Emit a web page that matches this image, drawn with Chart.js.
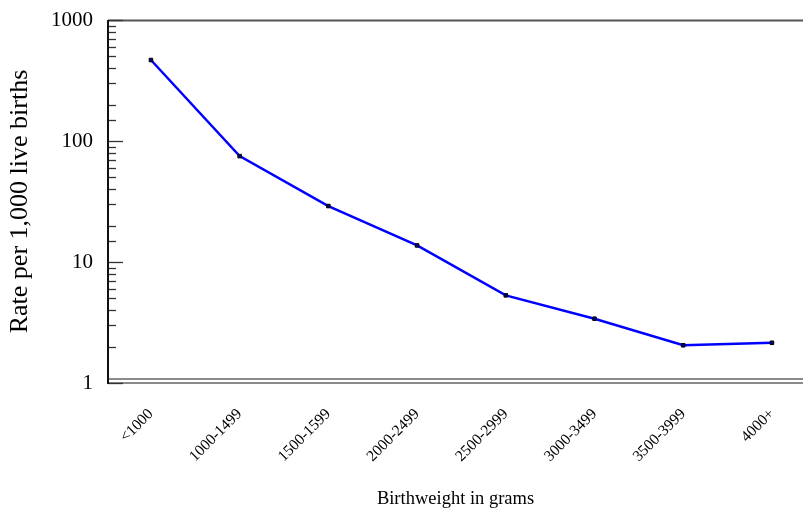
<!DOCTYPE html>
<html>
<head>
<meta charset="utf-8">
<script src="https://cdn.jsdelivr.net/npm/chart.js@4/dist/chart.umd.min.js"></script>
<style>
    html, body { margin: 0; padding: 0; background: #fff; overflow: hidden; }
</style>
</head>
<body>
<canvas id="myChart" width="803" height="510"></canvas>
<script>
const categories = ["<1000", "1000-1499", "1500-1599", "2000-2499", "2500-2999", "3000-3499", "3500-3999", "4000+"];
const rates = [467, 75, 29, 13.7, 5.3, 3.4, 2.05, 2.15];
const yTickLabels = [1, 10, 100, 1000];

const serif = "'Liberation Serif', 'Times New Roman', serif";

// axis lines and the little inside ticks, drawn on top of the scales
const axisPlugin = {
    id: 'axisLines',
    beforeDatasetsDraw(c) {
        const ctx = c.ctx;
        const area = c.chartArea;
        const y = c.scales.y;
        ctx.save();
        ctx.lineCap = 'butt';

        ctx.strokeStyle = "#555";
        ctx.lineWidth = 2;
        ctx.beginPath();
        ctx.moveTo(area.left, area.top + 0.5);
        ctx.lineTo(area.right, area.top + 0.5);
        ctx.stroke();

        ctx.strokeStyle = "#666";
        ctx.lineWidth = 1.5;
        ctx.beginPath();
        ctx.moveTo(area.left, area.bottom - 4);
        ctx.lineTo(area.right, area.bottom - 4);
        ctx.moveTo(area.left, area.bottom);
        ctx.lineTo(area.right, area.bottom);
        ctx.stroke();

        ctx.strokeStyle = "#333";
        ctx.lineWidth = 1.3;
        y.ticks.forEach(t => {
            const py = Math.round(y.getPixelForValue(t.value)) + 0.5;
            const major = yTickLabels.includes(t.value);
            ctx.beginPath();
            ctx.moveTo(area.left, py);
            ctx.lineTo(area.left + (major ? 15 : 8), py);
            ctx.stroke();
        });

        ctx.strokeStyle = "#111";
        ctx.lineWidth = 2;
        ctx.beginPath();
        ctx.moveTo(area.left, area.top);
        ctx.lineTo(area.left, area.bottom + 1);
        ctx.stroke();
        ctx.restore();
    }
};

const noPad = s => {
    s.paddingTop = 0;
    s.paddingBottom = 0;
    s.paddingLeft = 0;
    s.paddingRight = 0;
};

const chart = document.getElementById('myChart');

new Chart(chart, {
    type: 'line',
    data: {
        datasets: [{
            data: rates.map((v, i) => ({ x: i, y: v })),
            borderColor: "#0000ff",
            borderWidth: 2.5,
            pointStyle: 'rect',
            pointRadius: 2.5,
            pointBackgroundColor: "#000080",
            pointBorderColor: "#000",
            pointBorderWidth: 1,
            tension: 0,
        }]
    },
    options: {
        responsive: false,
        animation: false,
        layout: { autoPadding: false, padding: { top: 20, right: 0, left: 0, bottom: 0 } },
        plugins: {
            legend: { display: false },
            tooltip: { enabled: false },
        },
        scales: {
            x: {
                type: 'linear',
                min: -0.484,
                max: 7.35,
                afterBuildTicks: s => { s.ticks = categories.map((_, i) => ({ value: i })); },
                afterFit: s => { s.height = 127; noPad(s); },
                grid: { display: false, drawTicks: false },
                border: { display: false },
                ticks: {
                    autoSkip: false,
                    minRotation: 45,
                    maxRotation: 45,
                    padding: 22,
                    color: "#000",
                    font: { family: serif, size: 15.5 },
                    callback: v => categories[v],
                },
                title: {
                    display: true,
                    text: "Birthweight in grams",
                    color: "#000",
                    font: { family: serif, size: 18.5 },
                    padding: { top: 0, bottom: 0 },
                },
            },
            y: {
                type: 'logarithmic',
                min: 1,
                max: 1000,
                afterFit: s => { s.width = 108; noPad(s); },
                grid: { display: false, drawTicks: false },
                border: { display: false },
                ticks: {
                    autoSkip: false,
                    padding: 15,
                    color: "#000",
                    font: { family: serif, size: 21 },
                    callback: v => yTickLabels.includes(v) ? String(v) : '',
                },
                title: {
                    display: true,
                    text: "Rate per 1,000 live births",
                    color: "#000",
                    font: { family: serif, size: 26 },
                    padding: { top: 5, bottom: 0 },
                },
            },
        },
    },
    plugins: [axisPlugin],
});
</script>
</body>
</html>
